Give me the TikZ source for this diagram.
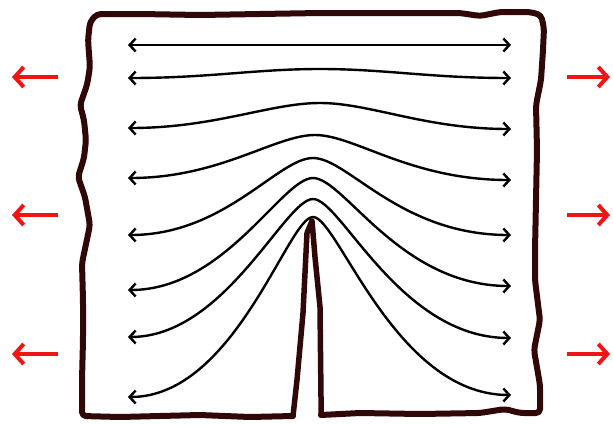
\documentclass[tikz,border=0pt]{standalone}
\usetikzlibrary{arrows.meta}
\definecolor{outline}{RGB}{48,8,8}
\definecolor{pull}{RGB}{240,20,20}
\tikzset{
  stress/.style={line width=2.4pt, black, {Straight Barb[length=6pt,width=13pt,line width=2.4pt]}-{Straight Barb[length=6pt,width=13pt,line width=2.4pt]}},
  pullarrow/.style={line width=4pt, pull, -{Straight Barb[length=9pt,width=20pt,line width=4pt]}},
  edge/.style={line width=6pt, outline, line join=round, line cap=round, rounded corners=4pt}
}
\begin{document}
\begin{tikzpicture}[x=1pt,y=-1pt]
\useasboundingbox (0,0) rectangle (613,424);
% specimen outline with crack
\draw[edge] (293,416) -- (250,417) -- (200,415) -- (160,416) -- (120,417) -- (82,416)
  -- (82,380) -- (83,340) -- (83,300) -- (82,263) -- (90,225) -- (85,197) -- (78,177)
  -- (84,158) -- (86,140) -- (84,120) -- (80,105) -- (87,85) -- (90,67) -- (88,40)
  -- (90,22) -- (97,14) -- (140,14) -- (200,15) -- (260,14) -- (320,13) -- (400,13)
  -- (460,13) -- (480,16) -- (500,12) -- (530,12) -- (541,15) -- (544,28) -- (543,50)
  -- (541,80) -- (536,105) -- (537,150) -- (536,200) -- (535,250) -- (535,280)
  -- (540,320) -- (534,350) -- (540,385) -- (540,413) -- (520,413) -- (505,409)
  -- (480,413) -- (420,414) -- (360,413) -- (321,415);
\draw[line width=5.5pt, outline, line join=round, line cap=round]
  (321,415) -- (321,397) -- (320,307) -- (315,257) -- (312,221) -- (307,233)
  -- (303,313) -- (297,380) -- (293,416);
% stress lines
\draw[stress] (128,45) -- (511,45);
\draw[stress] (128,78) .. controls (210,78) and (255,69) .. (320,69) .. controls (385,69) and (430,78) .. (511,78);
\draw[stress] (128,128) .. controls (215,128) and (270,103) .. (320,103) .. controls (370,103) and (425,129) .. (511,129);
\draw[stress] (128,178) .. controls (220,178) and (275,135) .. (315,135) .. controls (355,135) and (410,180) .. (511,180);
\draw[stress] (128,235) .. controls (225,235) and (278,158) .. (313,158) .. controls (348,158) and (400,235) .. (511,235);
\draw[stress] (128,290) .. controls (225,290) and (282,178) .. (313,178) .. controls (344,178) and (400,286) .. (511,286);
\draw[stress] (128,337) .. controls (225,337) and (285,199) .. (313,199) .. controls (341,199) and (400,338) .. (511,338);
\draw[stress] (128,397) .. controls (235,397) and (288,217) .. (313,217) .. controls (338,217) and (395,395) .. (511,395);
% applied tension
\foreach \y/\n in {77/a,215/b,354/c}{
  \coordinate (l\n s) at (58,\y); \coordinate (l\n e) at (12,\y);
  \coordinate (r\n s) at (567,\y); \coordinate (r\n e) at (610,\y);
  \draw[pullarrow] (l\n s) -- (l\n e);
  \draw[pullarrow] (r\n s) -- (r\n e);
}
\end{tikzpicture}
\end{document}
